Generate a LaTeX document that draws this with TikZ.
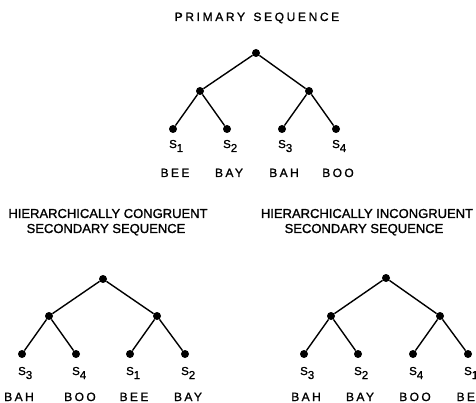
\documentclass[tikz,border=0pt]{standalone}
\usepackage{fontspec}
\setmainfont{Liberation Sans}[FakeBold=1.2]
\newcommand\slab[1]{S\rlap{\raisebox{-4pt}{#1}}}
\begin{document}
\begin{tikzpicture}[x=1pt,y=-1pt,
  dot/.style={circle,fill=black,inner sep=0pt,minimum size=8pt},
  edge/.style={line width=1.4pt},
  lab/.style={anchor=base,inner sep=0pt,font=\fontsize{11.5}{11}\selectfont},
  word/.style={anchor=base,inner sep=0pt,font=\fontsize{12}{12}\selectfont\addfontfeatures{LetterSpace=20}},
  ttl/.style={anchor=base,inner sep=0pt,font=\fontsize{12}{12}\selectfont\addfontfeatures{LetterSpace=22}},
  ttlb/.style={anchor=base,inner sep=0pt,font=\fontsize{13}{13}\selectfont}]
\useasboundingbox (0,0) rectangle (476,403);
\clip (0,0) rectangle (476,403);
% ---------- primary
\node[ttl] (t1) at (257,21) {PRIMARY\hspace{0.7em}SEQUENCE};
\node[dot] (pr) at (256,53) {};
\node[dot] (pa) at (200,91) {};
\node[dot] (pb) at (309,91) {};
\node[dot] (p1) at (173,129) {};
\node[dot] (p2) at (227,129) {};
\node[dot] (p3) at (282,129) {};
\node[dot] (p4) at (336,129) {};
\draw[edge] (pr) -- (pa); \draw[edge] (pr) -- (pb);
\draw[edge] (pa) -- (p1); \draw[edge] (pa) -- (p2);
\draw[edge] (pb) -- (p3); \draw[edge] (pb) -- (p4);
\node[lab] (ps1) at (173,148) {\slab{1}};
\node[lab] (ps2) at (227,148) {\slab{2}};
\node[lab] (ps3) at (282,148) {\slab{3}};
\node[lab] (ps4) at (336,148) {\slab{4}};
\node[word] (pw1) at (175,177) {BEE};
\node[word] (pw2) at (229,177) {BAY};
\node[word] (pw3) at (284,177) {BAH};
\node[word] (pw4) at (338,177) {BOO};
% ---------- congruent
\node[ttlb] (t2a) at (108,218) {HIERARCHICALLY CONGRUENT};
\node[ttlb] (t2b) at (106,233) {SECONDARY SEQUENCE};
\node[dot] (cr) at (103,279) {};
\node[dot] (ca) at (49,316) {};
\node[dot] (cb) at (157,316) {};
\node[dot] (c1) at (22,354) {};
\node[dot] (c2) at (76,354) {};
\node[dot] (c3) at (130,354) {};
\node[dot] (c4) at (185,354) {};
\draw[edge] (cr) -- (ca); \draw[edge] (cr) -- (cb);
\draw[edge] (ca) -- (c1); \draw[edge] (ca) -- (c2);
\draw[edge] (cb) -- (c3); \draw[edge] (cb) -- (c4);
\node[lab] (cs1) at (22,375) {\slab{3}};
\node[lab] (cs2) at (76,375) {\slab{4}};
\node[lab] (cs3) at (130,375) {\slab{1}};
\node[lab] (cs4) at (185,375) {\slab{2}};
\node[word] (cw1) at (19,401) {BAH};
\node[word] (cw2) at (80,401) {BOO};
\node[word] (cw3) at (134,401) {BEE};
\node[word] (cw4) at (188,401) {BAY};
% ---------- incongruent
\node[ttlb] (t3a) at (367,218) {HIERARCHICALLY INCONGRUENT};
\node[ttlb] (t3b) at (364,233) {SECONDARY SEQUENCE};
\node[dot] (ir) at (386,278) {};
\node[dot] (ia) at (331,316) {};
\node[dot] (ib) at (440,316) {};
\node[dot] (i1) at (304,354) {};
\node[dot] (i2) at (358,354) {};
\node[dot] (i3) at (413,354) {};
\node[dot] (i4) at (468,354) {};
\draw[edge] (ir) -- (ia); \draw[edge] (ir) -- (ib);
\draw[edge] (ia) -- (i1); \draw[edge] (ia) -- (i2);
\draw[edge] (ib) -- (i3); \draw[edge] (ib) -- (i4);
\node[lab] (is1) at (304,375) {\slab{3}};
\node[lab] (is2) at (358,375) {\slab{2}};
\node[lab] (is3) at (413,375) {\slab{4}};
\node[lab] (is4) at (468,375) {\slab{1}};
\node[word] (iw1) at (306,401) {BAH};
\node[word] (iw2) at (360,401) {BAY};
\node[word] (iw3) at (415,401) {BOO};
\node[word] (iw4) at (471,401) {BEE};
\end{tikzpicture}
\end{document}
